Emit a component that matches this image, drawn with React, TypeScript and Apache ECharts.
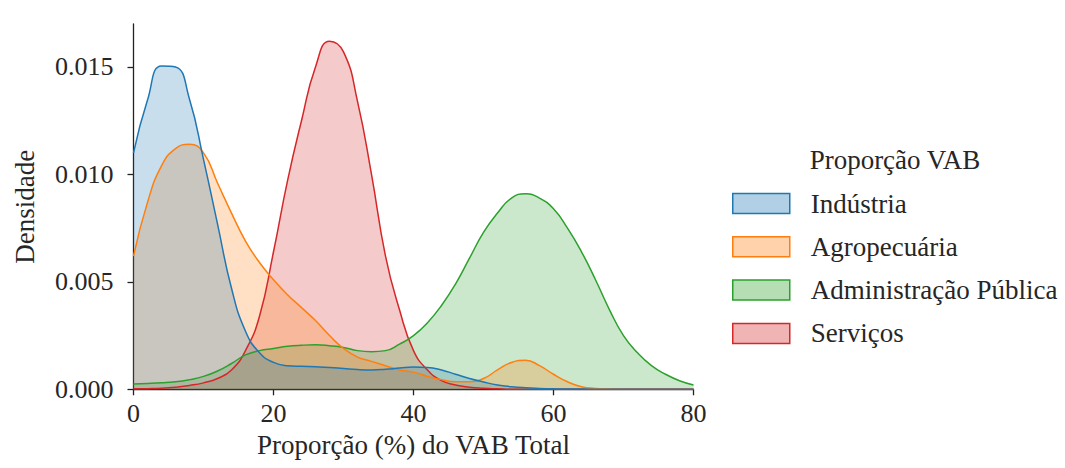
import React, { useEffect, useRef } from "react";
import * as echarts from "echarts";

const xs = [0, 2, 4, 6, 8, 10, 12, 14, 16, 18, 20, 22, 24, 26, 28, 30, 32, 34, 36, 38, 40, 42, 44, 46, 48, 50, 52, 54, 56, 58, 60, 62, 64, 66, 68, 70, 72, 74, 76, 78, 80];

const industria = [0.0110, 0.01346, 0.01505, 0.01500, 0.0135, 0.0107, 0.0077, 0.0047, 0.0027, 0.0017, 0.00125, 0.0011, 0.00107, 0.00105, 0.00102, 0.00097, 0.00092, 0.0009, 0.00093, 0.00099, 0.00104, 0.00102, 0.0009, 0.0007, 0.0005, 0.00034, 0.0002, 0.00012, 0.00007, 0.00004, 0.00002, 0.00001, 0.00001, 0, 0, 0, 0, 0, 0, 0, 0];

const agropecuaria = [0.0062, 0.0087, 0.0104, 0.0112, 0.0114, 0.011, 0.0096, 0.0082, 0.0069, 0.0059, 0.0051, 0.0044, 0.0038, 0.0032, 0.0025, 0.0019, 0.0015, 0.0013, 0.0011, 0.0009, 0.0008, 0.0006, 0.00045, 0.00035, 0.00035, 0.0005, 0.0009, 0.00125, 0.00135, 0.0011, 0.0007, 0.00035, 0.00012, 0.00004, 0.00001, 0, 0, 0, 0, 0, 0];

const administracao = [0.00025, 0.00027, 0.0003, 0.00035, 0.00045, 0.0006, 0.00085, 0.0012, 0.0016, 0.0018, 0.0019, 0.002, 0.00205, 0.00207, 0.00203, 0.00195, 0.0018, 0.00175, 0.0018, 0.0021, 0.0025, 0.0031, 0.0039, 0.0049, 0.0061, 0.0073, 0.0082, 0.0089, 0.0091, 0.0089, 0.0084, 0.0075, 0.0064, 0.0051, 0.0037, 0.0025, 0.0017, 0.0011, 0.0007, 0.0004, 0.0002];

const servicos = [0.00002, 0.00003, 0.00005, 0.0001, 0.00018, 0.0003, 0.0005, 0.0009, 0.0018, 0.0034, 0.0064, 0.0097, 0.0125, 0.015, 0.0162, 0.0157, 0.0134, 0.01, 0.0062, 0.0037, 0.0018, 0.0009, 0.0004, 0.0002, 0.0001, 0.00005, 0.00002, 0, 0, 0, 0, 0, 0, 0, 0, 0, 0, 0, 0, 0, 0];

const seriesNames = ["Indústria", "Agropecuária", "Administração Pública", "Serviços"];
const seriesValues = [industria, agropecuaria, administracao, servicos];
const seriesColors = ["#1f77b4", "#ff7f0e", "#2ca02c", "#d62728"];
const yTicks = [0, 0.005, 0.01, 0.015];
const xTicks = [0, 20, 40, 60, 80];
const legendTitle = "Proporção VAB";
const xName = "Proporção (%) do VAB Total";
const yName = "Densidade";

const FONT = "Liberation Serif";
const TXT = "#262626";

function hexA(hex: string, a: number) {
  const r = parseInt(hex.slice(1, 3), 16);
  const g = parseInt(hex.slice(3, 5), 16);
  const b = parseInt(hex.slice(5, 7), 16);
  return `rgba(${r},${g},${b},${a})`;
}

export default function App() {
  const ref = useRef<HTMLDivElement>(null);
  useEffect(() => {
    if (!ref.current) return;
    const chart = echarts.init(ref.current, undefined, { renderer: "svg" });
    const series = seriesNames
      .map((name, i) => ({
        name,
        type: "line",
        smooth: 0.5,
        showSymbol: false,
        symbol: "none",
        data: xs.map((x, j) => [x, seriesValues[i][j]]),
        lineStyle: { color: seriesColors[i], width: 1.5 },
        itemStyle: { color: seriesColors[i] },
        areaStyle: { color: hexA(seriesColors[i], 0.35), origin: "start" },
        emphasis: { disabled: true },
      }))
      .reverse();
    chart.setOption({
      animation: false,
      textStyle: { fontFamily: FONT },
      grid: { left: 133.5, right: 371.5, top: 24, bottom: 78.7, containLabel: false },
      xAxis: {
        type: "value",
        min: 0,
        max: 80,
        interval: 20,
        name: xName,
        nameLocation: "middle",
        nameGap: 40,
        nameTextStyle: { fontFamily: FONT, fontSize: 27, color: TXT },
        axisLine: { show: true, lineStyle: { color: "#222", width: 1.3 } },
        axisTick: { show: true, length: 6, lineStyle: { color: "#222", width: 1.3 } },
        axisLabel: {
          fontFamily: FONT,
          fontSize: 26,
          color: TXT,
          margin: 11,
          customValues: xTicks,
          formatter: (v: number) => String(v),
        },
        splitLine: { show: false },
      },
      yAxis: {
        type: "value",
        min: 0,
        max: 0.017,
        interval: 0.005,
        name: yName,
        nameLocation: "middle",
        nameGap: 95,
        nameTextStyle: { fontFamily: FONT, fontSize: 27, color: TXT },
        axisLine: { show: true, lineStyle: { color: "#222", width: 1.3 } },
        axisTick: { show: true, length: 6, customValues: yTicks, lineStyle: { color: "#222", width: 1.3 } },
        axisLabel: {
          fontFamily: FONT,
          fontSize: 26,
          color: TXT,
          margin: 20,
          customValues: yTicks,
          formatter: (v: number) => v.toFixed(3),
        },
        splitLine: { show: false },
      },
      legend: {
        orient: "vertical",
        left: 732,
        top: 190,
        padding: 0,
        itemWidth: 57,
        itemHeight: 20,
        itemGap: 16.3,
        selectedMode: false,
        textStyle: { fontFamily: FONT, fontSize: 27, color: TXT, padding: [0, 0, 0, 16] },
        data: seriesNames.map((name, i) => ({
          name,
          icon: "rect",
          itemStyle: { color: hexA(seriesColors[i], 0.35), borderColor: seriesColors[i], borderWidth: 1.5 },
        })),
      },
      graphic: [
        {
          type: "text",
          x: 895,
          y: 160,
          style: {
            text: legendTitle,
            fontFamily: FONT,
            fontSize: 27,
            fill: TXT,
            align: "center",
            verticalAlign: "middle",
          },
        },
      ],
      series,
    });
    return () => chart.dispose();
  }, []);
  return <div ref={ref} style={{ position: "fixed", left: 0, top: 0, width: 1065, height: 468, background: "#fff" }} />;
}
